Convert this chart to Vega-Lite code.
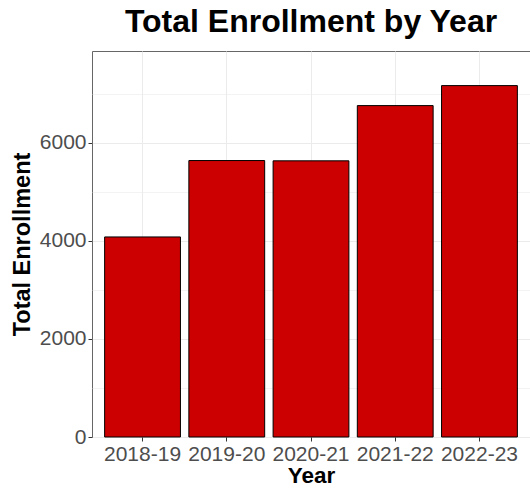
{
  "$schema": "https://vega.github.io/schema/vega-lite/v6.json",
  "width": 438,
  "height": 386,
  "autosize": "none",
  "padding": {"left": 92, "top": 51, "right": 0, "bottom": 52},
  "background": "white",
  "title": {
    "text": "Total Enrollment by Year",
    "font": "Liberation Sans",
    "fontSize": 32,
    "fontWeight": "bold",
    "color": "black",
    "anchor": "middle",
    "offset": 12
  },
  "data": {
    "values": [
      {"Year": "2018-19", "Enrollment": 4082},
      {"Year": "2019-20", "Enrollment": 5641},
      {"Year": "2020-21", "Enrollment": 5635},
      {"Year": "2021-22", "Enrollment": 6762},
      {"Year": "2022-23", "Enrollment": 7170}
    ]
  },
  "config": {
    "view": {"stroke": "#666666", "strokeWidth": 1},
    "axis": {
      "labelFont": "Liberation Sans",
      "titleFont": "Liberation Sans",
      "labelColor": "#4D4D4D",
      "labelFontSize": 21,
      "titleFontWeight": "bold",
      "titleColor": "black",
      "tickColor": "#333333",
      "tickSize": 4,
      "domain": false,
      "gridColor": "#EBEBEB"
    }
  },
  "mark": {"type": "bar", "fill": "#CC0000", "stroke": "black", "strokeWidth": 1},
  "encoding": {
    "x": {
      "field": "Year",
      "type": "nominal",
      "sort": null,
      "scale": {"paddingInner": 0.1, "paddingOuter": 0.15},
      "axis": {
        "title": "Year",
        "titleFontSize": 22.5,
        "labelAngle": 0,
        "bandPosition": 0.5,
        "grid": true,
        "gridWidth": 1,
        "labelPadding": 2,
        "titlePadding": 0
      }
    },
    "y": {
      "field": "Enrollment",
      "type": "quantitative",
      "scale": {"domain": [0, 7876], "nice": false, "zero": true},
      "axis": {
        "title": "Total Enrollment",
        "titleFontSize": 23.5,
        "values": [0, 1000, 2000, 3000, 4000, 5000, 6000, 7000],
        "labelExpr": "datum.value % 2000 === 0 ? datum.value : ''",
        "tickOpacity": {"condition": {"test": "datum.value % 2000 === 0", "value": 1}, "value": 0},
        "gridWidth": {"condition": {"test": "datum.value % 2000 === 0", "value": 1.1}, "value": 0.6},
        "grid": true,
        "labelPadding": 2,
        "titlePadding": 5
      }
    }
  }
}
